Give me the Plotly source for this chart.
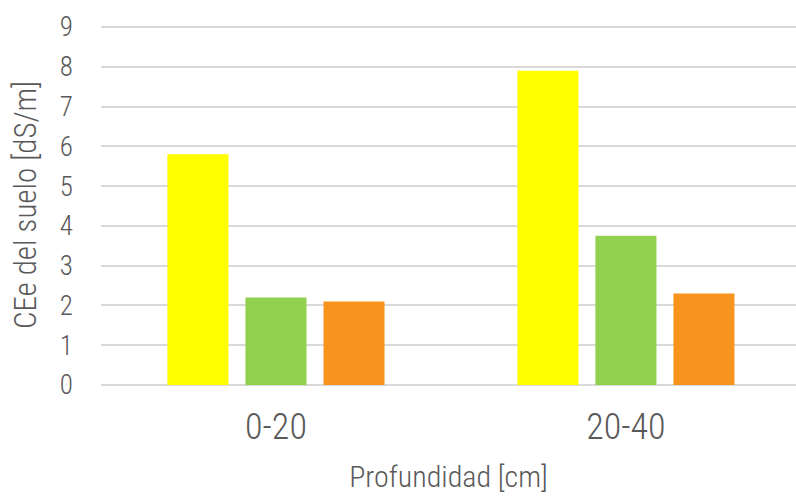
import plotly.graph_objects as go

categories = ["0-20", "20-40"]
serie_1 = [5.8, 7.9]
serie_2 = [2.2, 3.75]
serie_3 = [2.1, 2.3]
colors = ["#FFFF00", "#92D050", "#F7941D"]
y_ticks = list(range(0, 10))

FONT = "Roboto Condensed, DejaVu Sans Condensed, sans-serif"
GRAY = "#595959"

fig = go.Figure()
for vals, col in zip([serie_1, serie_2, serie_3], colors):
    fig.add_trace(go.Bar(x=categories, y=vals, marker=dict(color=col, line=dict(width=0)),
                         showlegend=False, hoverinfo="y"))

fig.update_layout(
    width=796, height=498,
    margin=dict(l=101, r=0, t=25, b=113),
    paper_bgcolor="white", plot_bgcolor="white",
    barmode="group", bargap=0.331, bargroupgap=0.218,
    font=dict(family=FONT, color=GRAY, weight=300),
    xaxis=dict(
        range=[-0.5, 1.486], showgrid=False, zeroline=False, showline=False,
        tickfont=dict(size=36, color=GRAY, weight=300), ticklabelstandoff=17,
        title=dict(text="Profundidad [cm]", font=dict(size=30, color=GRAY, weight=300), standoff=18),
        automargin=False,
    ),
    yaxis=dict(
        range=[0, 9.05], tickvals=y_ticks, showgrid=True, gridcolor="#D9D9D9", gridwidth=1.5,
        zeroline=True, zerolinecolor="#D9D9D9", zerolinewidth=1.5, showline=False,
        tickfont=dict(size=27, color=GRAY, weight=300), ticklabelstandoff=27,
        title=dict(text="CEe del suelo [dS/m]", font=dict(size=31, color=GRAY, weight=300), standoff=14),
        automargin=False,
    ),
)

fig.write_html(
    "out.html",
    config={"displayModeBar": False},
    post_script="var s=document.createElement('style');s.textContent='body{margin:0}';document.head.appendChild(s);",
)
